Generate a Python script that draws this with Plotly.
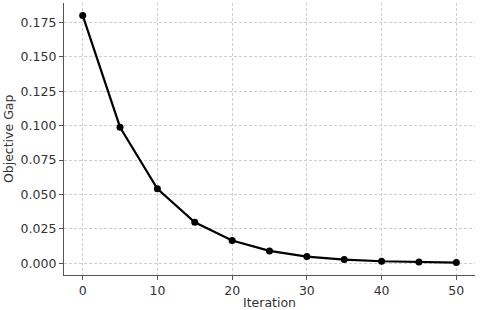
import plotly.graph_objects as go

iterations = [0, 5, 10, 15, 20, 25, 30, 35, 40, 45, 50]
objective_gap = [0.180, 0.0988, 0.0541, 0.0298, 0.0165, 0.0090, 0.0049, 0.0027, 0.0015, 0.0009, 0.0005]
x_ticks = [0, 10, 20, 30, 40, 50]
y_ticks = [0.0, 0.025, 0.05, 0.075, 0.1, 0.125, 0.15, 0.175]
y_tick_labels = ["0.000", "0.025", "0.050", "0.075", "0.100", "0.125", "0.150", "0.175"]

fig = go.Figure()
fig.add_trace(go.Scatter(
    x=iterations, y=objective_gap, mode="lines+markers",
    line=dict(color="black", width=2.2),
    marker=dict(color="black", size=7),
    showlegend=False,
))

font = "DejaVu Sans, sans-serif"
fig.update_layout(
    width=480, height=310,
    margin=dict(l=64, r=5, t=3, b=35),
    paper_bgcolor="white", plot_bgcolor="white",
    font=dict(family=font, size=12.5, color="#333333"),
    annotations=[
        dict(text="Iteration", xref="paper", yref="paper", x=0.5, y=-0.1,
             xanchor="center", yanchor="middle", showarrow=False,
             font=dict(size=12.5, color="#333333")),
        dict(text="Objective Gap", xref="paper", yref="paper", x=-0.136, y=0.5,
             xanchor="center", yanchor="middle", showarrow=False, textangle=-90,
             font=dict(size=12.5, color="#333333")),
    ],
)
common = dict(
    showline=True, linecolor="#555555", linewidth=1.3, mirror=False,
    ticks="outside", ticklen=4, tickwidth=1.2, tickcolor="#555555",
    showgrid=True, gridcolor="#cfcfcf", griddash="3px,2px", gridwidth=1,
    zeroline=False, automargin=False,
)
fig.update_xaxes(range=[-2.5, 52.5], tickvals=x_ticks, **common)
fig.update_yaxes(range=[-0.0085, 0.189], tickvals=y_ticks, ticktext=y_tick_labels, **common)

fig.write_html("out.html", config={"displayModeBar": False},
               post_script="document.body.style.margin='0';")
